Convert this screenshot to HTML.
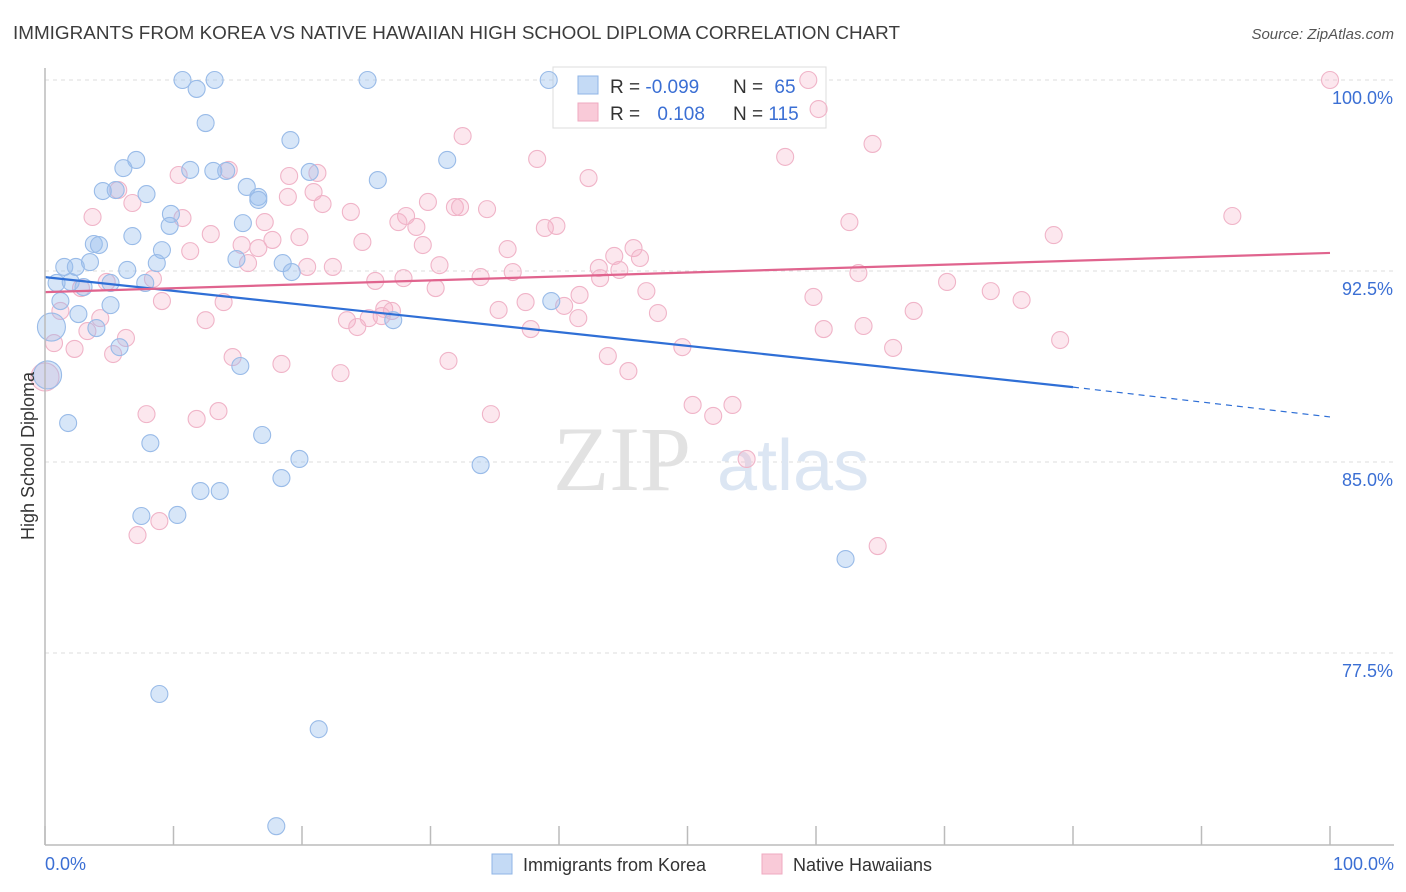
<!DOCTYPE html>
<html><head><meta charset="utf-8"><style>
body{margin:0;background:#fff;font-family:"Liberation Sans",sans-serif;}
svg{display:block}
</style></head><body>
<svg id="chart" width="1406" height="892" viewBox="0 0 1406 892" xmlns="http://www.w3.org/2000/svg">
<text x="13" y="39" font-size="18" fill="#3c3c3c" textLength="887" lengthAdjust="spacingAndGlyphs">IMMIGRANTS FROM KOREA VS NATIVE HAWAIIAN HIGH SCHOOL DIPLOMA CORRELATION CHART</text>
<text x="1394" y="39" font-size="15" fill="#555" text-anchor="end" font-style="italic">Source: ZipAtlas.com</text>
<g id="grid"></g>
<text x="553" y="490" font-size="92" fill="#e2e2e2" font-family="Liberation Serif, serif">ZIP</text>
<text x="717" y="490" font-size="72" fill="#dce6f3">atlas</text>
<g>
<rect x="553" y="67" width="273" height="61" fill="#fff" stroke="#ddd"/>
<rect x="578" y="76" width="20" height="18" fill="#c4daf5" stroke="#8fb4e6"/>
<rect x="578" y="103" width="20" height="18" fill="#f9cad8" stroke="#efaac0"/>
<text x="610" y="93" font-size="19" fill="#333">R = <tspan fill="#3b6fd4">-0.099</tspan></text>
<text x="733" y="93" font-size="19" fill="#333">N = <tspan fill="#3b6fd4" dx="6">65</tspan></text>
<text x="610" y="120" font-size="19" fill="#333">R = <tspan fill="#3b6fd4" dx="12">0.108</tspan></text>
<text x="733" y="120" font-size="19" fill="#333">N = <tspan fill="#3b6fd4">115</tspan></text>
</g>
<g id="pts"></g>
<g id="lines"></g>
<g id="axes"></g>
<text transform="translate(34,456) rotate(-90)" font-size="18" fill="#333" text-anchor="middle">High School Diploma</text>
<g>
<rect x="492" y="854" width="20" height="20" fill="#c4daf5" stroke="#8fb4e6"/>
<text x="523" y="871" font-size="18" fill="#333">Immigrants from Korea</text>
<rect x="762" y="854" width="20" height="20" fill="#f9cad8" stroke="#efaac0"/>
<text x="793" y="871" font-size="18" fill="#333">Native Hawaiians</text>
</g>
</svg>
<script>
const yTicks=[100,92.5,85,77.5];
const yTickLabels=["100.0%","92.5%","85.0%","77.5%"];
const xTickValues=[0,10,20,30,40,50,60,70,80,90,100];
const xTickLabels=["0.0%","100.0%"];
const koreaX=[10.7,11.8,13.2,25.1,39.2,12.5,19.1,31.3,7.1,6.1,11.3,13.1,14.1,20.6,25.9,4.5,5.5,7.9,15.7,16.6,16.6,9.8,9.7,15.4,6.8,3.8,4.2,9.1,14.9,1.5,3.5,2.4,6.4,8.7,18.5,19.2,0.9,2.0,3.0,5.1,7.8,1.2,5.1,39.4,2.6,27.1,0.5,4.0,5.8,15.2,0.2,1.8,16.9,8.2,19.8,33.9,18.4,12.1,13.6,7.5,10.3,62.3,8.9,21.3,18.0];
const koreaY=[100.0,99.65,100.0,100.0,100.0,98.31,97.64,96.86,96.86,96.54,96.47,96.43,96.43,96.39,96.07,95.64,95.68,95.52,95.80,95.41,95.29,94.74,94.27,94.38,93.87,93.56,93.52,93.32,92.97,92.66,92.85,92.66,92.54,92.81,92.81,92.46,92.03,92.07,91.87,92.03,92.03,91.32,91.16,91.32,90.81,90.57,90.30,90.26,89.51,88.77,88.42,86.53,86.06,85.74,85.12,84.88,84.37,83.86,83.86,82.88,82.92,81.19,75.89,74.51,70.70];
const hawX=[100,59.4,60.2,32.5,64.4,38.3,57.6,42.3,10.4,14.3,21.2,19.0,20.9,18.9,5.7,6.8,21.6,29.8,3.7,10.7,23.8,28.1,31.9,32.3,34.4,92.4,62.6,17.1,27.5,28.9,38.9,39.8,12.9,19.8,17.7,15.3,16.6,24.7,29.4,11.3,36.0,78.5,45.8,44.3,46.3,15.8,30.7,20.4,22.4,43.1,44.7,36.4,33.9,63.3,25.7,27.9,30.4,43.2,70.2,4.8,8.4,73.6,46.8,2.8,41.6,76.0,9.1,13.9,59.8,37.4,40.4,35.3,1.2,67.6,26.4,27.0,26.2,47.7,12.5,23.5,24.3,25.2,41.5,37.8,63.7,60.6,3.3,4.3,6.3,0.7,79.0,66.0,2.3,49.6,5.3,14.6,43.8,31.4,18.4,45.4,23.0,0.0,7.9,13.5,11.8,34.7,50.4,52.0,53.5,54.6,8.9,7.2,64.8];
const hawY=[100.0,100.0,98.86,97.80,97.49,96.90,96.98,96.15,96.27,96.47,96.35,96.23,95.60,95.41,95.68,95.17,95.13,95.21,94.62,94.58,94.82,94.66,95.01,95.01,94.93,94.66,94.42,94.42,94.42,94.23,94.19,94.27,93.95,93.83,93.72,93.52,93.40,93.64,93.52,93.28,93.36,93.91,93.40,93.09,93.01,92.81,92.73,92.66,92.66,92.62,92.54,92.46,92.26,92.42,92.11,92.22,91.83,92.22,92.07,92.07,92.19,91.71,91.71,91.83,91.56,91.36,91.32,91.28,91.48,91.28,91.13,90.97,90.93,90.93,91.01,90.93,90.73,90.85,90.57,90.57,90.30,90.65,90.65,90.22,90.34,90.22,90.14,90.65,89.87,89.67,89.79,89.48,89.44,89.51,89.24,89.12,89.16,88.97,88.85,88.57,88.49,88.34,86.88,87.00,86.69,86.88,87.24,86.81,87.24,85.12,82.68,82.13,81.70];
const koreaTrend=[92.26,87.94,86.77];
const hawTrend=[91.67,93.21];
const koreaBig=[46,50];
const hawBig=[101];

const NS="http://www.w3.org/2000/svg";
const X0=45,X1=1330,Y100=80,PXPER=191/7.5;
function sx(v){return X0+(X1-X0)*v/100;}
function sy(v){return Y100+(100-v)*PXPER;}
function mk(tag,attrs,parent){const e=document.createElementNS(NS,tag);for(const k in attrs)e.setAttribute(k,attrs[k]);parent.appendChild(e);return e;}
const grid=document.getElementById('grid'),axes=document.getElementById('axes'),pts=document.getElementById('pts'),lines=document.getElementById('lines');
yTicks.forEach((t,i)=>{
 const l=mk('line',{x1:X0,x2:1394,y1:sy(t),y2:sy(t),stroke:'#ddd','stroke-dasharray':'4,4'},grid);
 
 
 const tx=mk('text',{x:1393,y:sy(t)+24,'font-size':18,fill:'#3b6fd4','text-anchor':'end'},axes);
 tx.textContent=yTickLabels[i];
 
 
});
const ya=mk('line',{x1:X0,x2:X0,y1:68,y2:845,stroke:'#bbb','stroke-width':1.5},axes);


const xa=mk('line',{x1:X0,x2:1394,y1:845,y2:845,stroke:'#bbb','stroke-width':1.5},axes);


xTickValues.forEach(v=>{
 const t=mk('line',{x1:sx(v),x2:sx(v),y1:826,y2:845,stroke:'#bbb','stroke-width':1.5},axes);
 
 
});
[[0,'start',45],[100,'end',1394]].forEach((d,i)=>{
 const tx=mk('text',{x:d[2],y:870,'font-size':18,fill:'#3b6fd4','text-anchor':d[1]},axes);
 tx.textContent=xTickLabels[i];
 
 
});
function drawSeries(xs,ys,big,fill,stroke,name){
 xs.forEach((x,i)=>{
  const r=big.includes(i)?14:8.5;
  const c=mk('circle',{cx:sx(x),cy:sy(ys[i]),r:r,fill:fill,stroke:stroke,'stroke-width':1.1},pts);
  
  
 });
}
drawSeries(hawX,hawY,hawBig,'rgba(246,175,199,0.3)','#f0b4c8','point-native-hawaiian');
drawSeries(koreaX,koreaY,koreaBig,'rgba(150,188,236,0.38)','#99bbe8','point-korea');
const kl=mk('line',{x1:sx(0),y1:sy(koreaTrend[0]),x2:sx(80),y2:sy(koreaTrend[1]),stroke:'#2f6fd6','stroke-width':2.2},lines);


const kd=mk('line',{x1:sx(80),y1:sy(koreaTrend[1]),x2:sx(100),y2:sy(koreaTrend[2]),stroke:'#2f6fd6','stroke-width':1.2,'stroke-dasharray':'6,5'},lines);


const hl=mk('line',{x1:sx(0),y1:sy(hawTrend[0]),x2:sx(100),y2:sy(hawTrend[1]),stroke:'#e0648e','stroke-width':2.2},lines);


</script>
</body></html>
